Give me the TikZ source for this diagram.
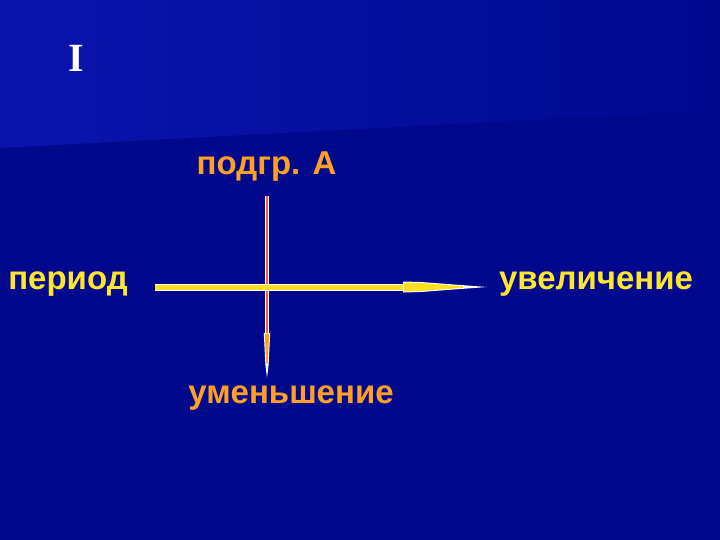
\documentclass[tikz,border=0pt]{standalone}
\usepackage{fontspec}
\setmainfont{Liberation Sans}
\newfontfamily\serifbold{Liberation Serif}
\usetikzlibrary{calc}
\definecolor{bgdark}{HTML}{00088C}
\definecolor{bgtopl}{HTML}{0A14AC}
\definecolor{bgtopr}{HTML}{00098E}
\definecolor{labyellow}{HTML}{FFE62E}
\definecolor{laborange}{HTML}{FFA024}
\definecolor{lineyellow}{HTML}{FFE020}
\definecolor{lineorange}{HTML}{FF5A30}
\tikzset{
  lbl/.style={font=\fontsize{33}{37}\selectfont\bfseries, inner sep=0pt, anchor=base},
  ylbl/.style={lbl, text=labyellow},
  olbl/.style={lbl, text=laborange},
}
\begin{document}
\begin{tikzpicture}[x=1pt,y=-1pt]
\useasboundingbox (0,0) rectangle (720,540);
% background
\fill[bgdark] (0,0) rectangle (720,540);
\shade[left color=bgtopl, right color=bgtopr] (0,0) -- (720,0) -- (720,110) -- (0,148) -- cycle;
% texts
\node[font=\serifbold\fontsize{40}{44}\selectfont\bfseries, text=white, inner sep=0pt, anchor=base] (title) at (76,72) {I};
\node[olbl] (grp) at (266.5,175) {подгр. А};
\node[ylbl] (per) at (68,289) {период};
\node[ylbl] (inc) at (596,289) {увеличение};
\node[olbl] (dec) at (291,403) {уменьшение};
% anchor coordinates of the arrows
\coordinate (vtop) at (267,196);
\coordinate (vhead) at (267,333);
\coordinate (vtip) at (267,378);
\coordinate (hleft) at (155,287);
\coordinate (hhead) at (403,287);
\coordinate (htip) at (487,287);
% vertical arrow
\draw[white, line width=4.2pt] (vtop) -- (vhead);
\draw[lineorange, line width=2pt] (vtop) -- (vhead);
\fill[white] ($(vhead)+(-3.2,0)$) -- ($(vhead)+(3.2,0)$) -- ($(vhead)+(1.6,32)$) -- (vtip) -- ($(vhead)+(-1.6,32)$) -- cycle;
\fill[laborange] ($(vhead)+(-2.2,0.5)$) -- ($(vhead)+(2.2,0.5)$) -- ($(vhead)+(0.8,30)$) -- ($(vhead)+(-0.8,30)$) -- cycle;
% horizontal arrow
\draw[white, line width=7pt] (hleft) -- (hhead);
\draw[lineyellow, line width=5pt] (hleft) -- (hhead);
\fill[white] ($(hhead)+(0,-5.5)$) -- ($(hhead)+(18,-5)$) -- ($(hhead)+(68,-1.2)$) -- (htip) -- ($(hhead)+(68,1.2)$) -- ($(hhead)+(18,5)$) -- ($(hhead)+(0,5.5)$) -- cycle;
\fill[lineyellow] ($(hhead)+(0.8,-4.5)$) -- ($(hhead)+(18,-4)$) -- ($(hhead)+(60,-0.8)$) -- ($(hhead)+(60,0.8)$) -- ($(hhead)+(18,4)$) -- ($(hhead)+(0.8,4.5)$) -- cycle;
\end{tikzpicture}
\end{document}
